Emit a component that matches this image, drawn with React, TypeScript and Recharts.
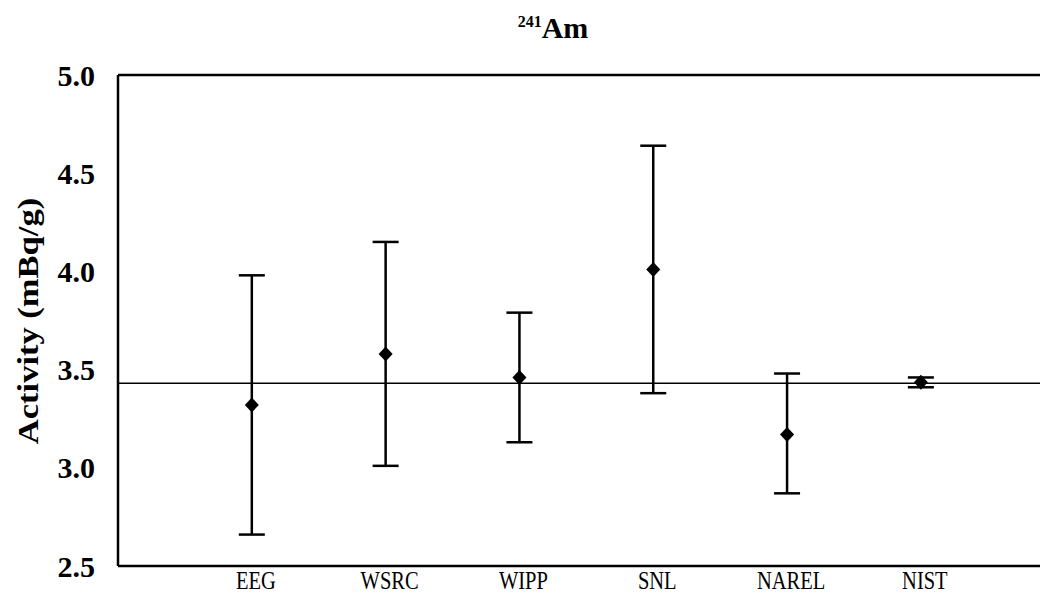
import { ComposedChart, Scatter, ErrorBar, XAxis, YAxis, ReferenceLine } from "recharts";

const labs = ["EEG", "WSRC", "WIPP", "SNL", "NAREL", "NIST"];
const activity = [3.32, 3.58, 3.46, 4.01, 3.17, 3.435];
const lower = [2.66, 3.01, 3.13, 3.38, 2.87, 3.41];
const upper = [3.98, 4.15, 3.79, 4.64, 3.48, 3.46];
const yTicks = [2.5, 3.0, 3.5, 4.0, 4.5, 5.0];
const nistValue = 3.43;

const data = labs.map((name, i) => ({
  pos: i + 1,
  name,
  value: activity[i],
  err: [activity[i] - lower[i], upper[i] - activity[i]],
}));

const serif = "'Liberation Serif', 'Times New Roman', serif";

function Diamond(props: any) {
  const { cx, cy } = props;
  return (
    <polygon
      points={`${cx},${cy - 7.5} ${cx + 7},${cy} ${cx},${cy + 7.5} ${cx - 7},${cy}`}
      fill="#000"
    />
  );
}

// the scanned labels are stretched vertically, hence the scaleY
function LabTick(props: any) {
  const { x, y, payload } = props;
  return (
    <text
      transform={`translate(${x + 4},${y + 15}) scale(1,1.25)`}
      textAnchor="middle"
      fontFamily={serif}
      fontSize={20.5}
      fill="#000"
    >
      {labs[payload.value - 1]}
    </text>
  );
}

export default function App() {
  return (
    <div style={{ position: "relative", width: 1040, height: 587, background: "#fff" }}>
      <div
        style={{
          position: "absolute",
          left: 0,
          width: 1090,
          top: -3,
          textAlign: "center",
          fontFamily: serif,
          fontWeight: "bold",
          fontSize: 30,
          lineHeight: "34px",
        }}
      >
        <sup style={{ fontSize: 16 }}>241</sup>Am
      </div>
      <div
        style={{
          position: "absolute",
          left: 20,
          top: 313,
          transform: "translate(-50%, -50%) rotate(-90deg) scaleX(1.15)",
          whiteSpace: "nowrap",
          fontFamily: serif,
          fontWeight: "bold",
          fontSize: 30,
        }}
      >
        Activity (mBq/g)
      </div>
      <ComposedChart
        width={1040}
        height={587}
        data={data}
        margin={{ top: 67, right: 0, bottom: 0, left: 0 }}
        style={{ position: "absolute", left: 0, top: 0 }}
      >
        <XAxis
          type="number"
          dataKey="pos"
          domain={[0, 6.95]}
          ticks={[1, 2, 3, 4, 5, 6]}
          height={29}
          tickLine={false}
          axisLine={{ stroke: "#000", strokeWidth: 2.5 }}
          tick={<LabTick />}
          allowDataOverflow
        />
        <YAxis
          type="number"
          domain={[2.5, 5.0]}
          ticks={yTicks}
          width={110}
          tickLine={false}
          tickSize={0}
          tickMargin={23}
          tickFormatter={(v: number) => v.toFixed(1)}
          axisLine={{ stroke: "#000", strokeWidth: 2.5 }}
          tick={{ fill: "#000", fontFamily: serif, fontWeight: "bold", fontSize: 30 }}
          allowDataOverflow
        />
        <ReferenceLine y={5.0} stroke="#000" strokeWidth={2.5} />
        <ReferenceLine y={nistValue} stroke="#000" strokeWidth={1.5} />
        <Scatter dataKey="value" shape={<Diamond />} isAnimationActive={false}>
          <ErrorBar dataKey="err" direction="y" width={13} stroke="#000" strokeWidth={2.5} />
        </Scatter>
      </ComposedChart>
    </div>
  );
}
